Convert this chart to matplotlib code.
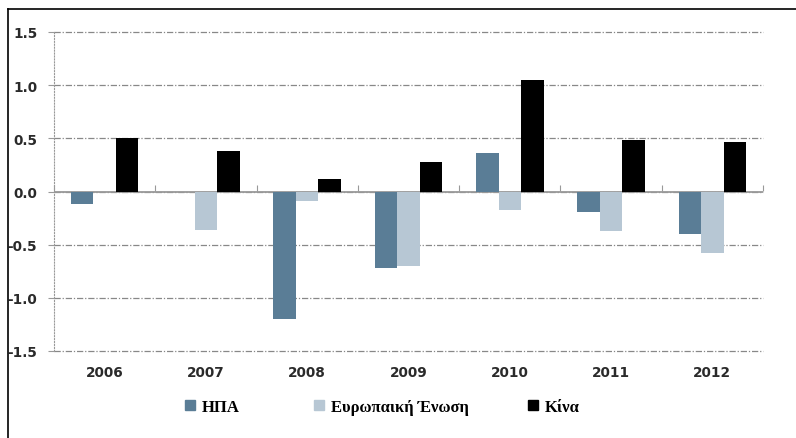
import numpy as np
import matplotlib.pyplot as plt
from matplotlib.lines import Line2D
from matplotlib.patches import Patch

years = ["2006", "2007", "2008", "2009", "2010", "2011", "2012"]
usa = [-0.12, 0.0, -1.20, -0.72, 0.36, -0.19, -0.40]
eu = [0.0, -0.36, -0.09, -0.70, -0.17, -0.37, -0.575]
china = [0.50, 0.38, 0.12, 0.28, 1.05, 0.48, 0.47]

names = ["ΗΠΑ", "Ευρωπαική Ένωση", "Κίνα"]
colors = ["#5a7d96", "#b7c7d4", "#000000"]

fig = plt.figure(figsize=(7.96, 4.39), dpi=100)
ax = fig.add_axes([54 / 796, 1 - 352 / 439, (763 - 54) / 796, (352 - 33) / 439])

x = np.arange(len(years))
w = 0.222
for vals, off, c in zip([usa, eu, china], [-w, 0, w], colors):
    ax.bar(x + off, vals, width=w, color=c, zorder=3)

ax.set_xlim(-0.5, len(years) - 0.5)
ax.set_ylim(-1.5, 1.5)
yt = np.arange(-1.5, 1.51, 0.5)
ax.set_yticks(yt)
ax.set_yticklabels([f"{v:.1f}" for v in yt], fontsize=9.8, fontweight="bold", color="#2a2a2a")
ax.set_xticks(x)
ax.set_xticklabels(years, fontsize=9.8, fontweight="bold", color="#2a2a2a")
ax.tick_params(axis="x", length=0, pad=10)
ax.tick_params(axis="y", length=4, color="#999999", pad=8)

# dash-dot grid
ax.grid(axis="y", color="#888888", linestyle=(0, (5, 1.5, 1, 1.5)), linewidth=0.9, zorder=1)
for g in ax.get_ygridlines():
    g.set_clip_on(False)
for s in ["top", "right", "bottom"]:
    ax.spines[s].set_visible(False)
ax.spines["left"].set_color("#999999")
ax.spines["left"].set_linestyle(":")

# zero line with group separators
ax.axhline(0, color="#999999", lw=1.3, zorder=2)
zero = ax.secondary_xaxis(0.5)
zero.set_xticks(np.arange(-0.5, len(years), 1.0))
zero.set_xticklabels([])
zero.tick_params(length=4, color="#999999", direction="out")
for s in zero.spines.values():
    s.set_visible(False)

# outer frame
fig.add_artist(Line2D([8 / 796, 1], [1 - 10 / 439, 1 - 10 / 439], color="black", lw=1.2))
fig.add_artist(Line2D([8 / 796, 8 / 796], [0, 1 - 10 / 439], color="black", lw=1.2))

# legend entries placed one by one
legend_x = [185, 314, 528]
font = {"family": "Liberation Serif", "weight": "bold", "size": 12}
for name, c, lx in zip(names, colors, legend_x):
    leg = fig.legend([Patch(color=c)], [name], loc="center left",
                     bbox_to_anchor=(lx / 796, 1 - 408 / 439), frameon=False,
                     handlelength=0.6, handleheight=0.6, handletextpad=0.4,
                     borderpad=0, borderaxespad=0, prop=font)

fig.savefig("out.png", dpi=100)
